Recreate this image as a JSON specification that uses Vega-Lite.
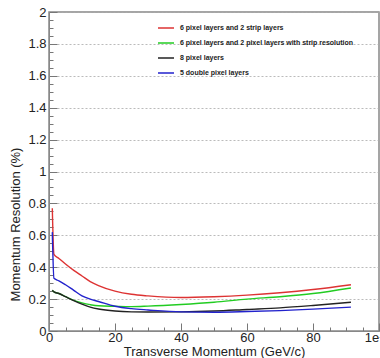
{
  "$schema": "https://vega.github.io/schema/vega-lite/v6.json",
  "width": 330,
  "height": 319,
  "autosize": "none",
  "padding": {"left": 49, "top": 12, "right": 1, "bottom": 27},
  "background": "white",
  "config": {
    "font": "Liberation Sans",
    "view": {"stroke": "#888888", "strokeWidth": 1.5}
  },
  "data": {
    "values": [
      {"series": "6 pixel layers and 2 strip layers", "pt": 1, "res": 0.77},
      {"series": "6 pixel layers and 2 strip layers", "pt": 1.5, "res": 0.48},
      {"series": "6 pixel layers and 2 strip layers", "pt": 3, "res": 0.455},
      {"series": "6 pixel layers and 2 strip layers", "pt": 5, "res": 0.42},
      {"series": "6 pixel layers and 2 strip layers", "pt": 7.5, "res": 0.38},
      {"series": "6 pixel layers and 2 strip layers", "pt": 10, "res": 0.345},
      {"series": "6 pixel layers and 2 strip layers", "pt": 12.5, "res": 0.31},
      {"series": "6 pixel layers and 2 strip layers", "pt": 15, "res": 0.285},
      {"series": "6 pixel layers and 2 strip layers", "pt": 20, "res": 0.25},
      {"series": "6 pixel layers and 2 strip layers", "pt": 25, "res": 0.23},
      {"series": "6 pixel layers and 2 strip layers", "pt": 30, "res": 0.22},
      {"series": "6 pixel layers and 2 strip layers", "pt": 40, "res": 0.21},
      {"series": "6 pixel layers and 2 strip layers", "pt": 50, "res": 0.215},
      {"series": "6 pixel layers and 2 strip layers", "pt": 60, "res": 0.225},
      {"series": "6 pixel layers and 2 strip layers", "pt": 70, "res": 0.24},
      {"series": "6 pixel layers and 2 strip layers", "pt": 80, "res": 0.26},
      {"series": "6 pixel layers and 2 strip layers", "pt": 91.5, "res": 0.29},

      {"series": "6 pixel layers and 2 pixel layers with strip resolution", "pt": 1, "res": 0.255},
      {"series": "6 pixel layers and 2 pixel layers with strip resolution", "pt": 1.5, "res": 0.245},
      {"series": "6 pixel layers and 2 pixel layers with strip resolution", "pt": 3, "res": 0.235},
      {"series": "6 pixel layers and 2 pixel layers with strip resolution", "pt": 5, "res": 0.215},
      {"series": "6 pixel layers and 2 pixel layers with strip resolution", "pt": 7.5, "res": 0.192},
      {"series": "6 pixel layers and 2 pixel layers with strip resolution", "pt": 10, "res": 0.176},
      {"series": "6 pixel layers and 2 pixel layers with strip resolution", "pt": 12.5, "res": 0.165},
      {"series": "6 pixel layers and 2 pixel layers with strip resolution", "pt": 15, "res": 0.158},
      {"series": "6 pixel layers and 2 pixel layers with strip resolution", "pt": 20, "res": 0.155},
      {"series": "6 pixel layers and 2 pixel layers with strip resolution", "pt": 25, "res": 0.153},
      {"series": "6 pixel layers and 2 pixel layers with strip resolution", "pt": 30, "res": 0.156},
      {"series": "6 pixel layers and 2 pixel layers with strip resolution", "pt": 40, "res": 0.166},
      {"series": "6 pixel layers and 2 pixel layers with strip resolution", "pt": 50, "res": 0.18},
      {"series": "6 pixel layers and 2 pixel layers with strip resolution", "pt": 60, "res": 0.20},
      {"series": "6 pixel layers and 2 pixel layers with strip resolution", "pt": 70, "res": 0.215},
      {"series": "6 pixel layers and 2 pixel layers with strip resolution", "pt": 80, "res": 0.235},
      {"series": "6 pixel layers and 2 pixel layers with strip resolution", "pt": 91.5, "res": 0.27},

      {"series": "8 pixel layers", "pt": 1, "res": 0.255},
      {"series": "8 pixel layers", "pt": 1.5, "res": 0.245},
      {"series": "8 pixel layers", "pt": 3, "res": 0.235},
      {"series": "8 pixel layers", "pt": 5, "res": 0.215},
      {"series": "8 pixel layers", "pt": 7.5, "res": 0.19},
      {"series": "8 pixel layers", "pt": 10, "res": 0.168},
      {"series": "8 pixel layers", "pt": 12.5, "res": 0.15},
      {"series": "8 pixel layers", "pt": 15, "res": 0.138},
      {"series": "8 pixel layers", "pt": 20, "res": 0.125},
      {"series": "8 pixel layers", "pt": 25, "res": 0.12},
      {"series": "8 pixel layers", "pt": 30, "res": 0.119},
      {"series": "8 pixel layers", "pt": 40, "res": 0.12},
      {"series": "8 pixel layers", "pt": 50, "res": 0.125},
      {"series": "8 pixel layers", "pt": 60, "res": 0.135},
      {"series": "8 pixel layers", "pt": 70, "res": 0.145},
      {"series": "8 pixel layers", "pt": 80, "res": 0.16},
      {"series": "8 pixel layers", "pt": 91.5, "res": 0.18},

      {"series": "5 double pixel layers", "pt": 1, "res": 0.62},
      {"series": "5 double pixel layers", "pt": 1.5, "res": 0.33},
      {"series": "5 double pixel layers", "pt": 3, "res": 0.315},
      {"series": "5 double pixel layers", "pt": 5, "res": 0.29},
      {"series": "5 double pixel layers", "pt": 7.5, "res": 0.255},
      {"series": "5 double pixel layers", "pt": 10, "res": 0.22},
      {"series": "5 double pixel layers", "pt": 12.5, "res": 0.2},
      {"series": "5 double pixel layers", "pt": 15, "res": 0.185},
      {"series": "5 double pixel layers", "pt": 20, "res": 0.155},
      {"series": "5 double pixel layers", "pt": 25, "res": 0.14},
      {"series": "5 double pixel layers", "pt": 30, "res": 0.132},
      {"series": "5 double pixel layers", "pt": 40, "res": 0.12},
      {"series": "5 double pixel layers", "pt": 50, "res": 0.118},
      {"series": "5 double pixel layers", "pt": 60, "res": 0.122},
      {"series": "5 double pixel layers", "pt": 70, "res": 0.128},
      {"series": "5 double pixel layers", "pt": 80, "res": 0.137},
      {"series": "5 double pixel layers", "pt": 91.5, "res": 0.15}
    ]
  },
  "mark": {"type": "line", "strokeWidth": 1.4, "interpolate": "monotone"},
  "encoding": {
    "x": {
      "field": "pt",
      "type": "quantitative",
      "scale": {"domain": [0, 100], "nice": false},
      "axis": {
        "title": "Transverse Momentum (GeV/c)",
        "titleFontSize": 13,
        "titleFontWeight": "normal",
        "titleColor": "#222222",
        "titleY": 14,
        "titleBaseline": "top",
        "values": [0,5,10,15,20,25,30,35,40,45,50,55,60,65,70,75,80,85,90,95,100],
        "format": "~g",
        "labelExpr": "datum.value % 20 == 0 ? datum.label : ''",
        "labelFontSize": 13,
        "labelColor": "#222222",
        "labelPadding": 8,
        "labelFlush": false,
        "labelOverlap": false,
        "tickColor": "#777777",
        "tickSize": {"condition": {"test": "datum.value % 20 == 0", "value": -8}, "value": -4},
        "domainColor": "#888888",
        "grid": false
      }
    },
    "y": {
      "field": "res",
      "type": "quantitative",
      "scale": {"domain": [0, 2], "nice": false},
      "axis": {
        "title": "Momentum Resolution (%)",
        "titleFontSize": 13,
        "titleFontWeight": "normal",
        "titleColor": "#222222",
        "titleAnchor": "middle",
        "titleY": 212,
        "titleX": -27,
        "values": [0,0.05,0.1,0.15,0.2,0.25,0.3,0.35,0.4,0.45,0.5,0.55,0.6,0.65,0.7,0.75,0.8,0.85,0.9,0.95,1,1.05,1.1,1.15,1.2,1.25,1.3,1.35,1.4,1.45,1.5,1.55,1.6,1.65,1.7,1.75,1.8,1.85,1.9,1.95,2],
        "format": "~g",
        "labelExpr": "abs(datum.value*5 - round(datum.value*5)) < 0.001 ? datum.label : ''",
        "labelFontSize": 13,
        "labelColor": "#222222",
        "labelPadding": 11,
        "labelOverlap": false,
        "labelFlush": false,
        "tickColor": "#777777",
        "tickSize": {"condition": {"test": "abs(datum.value*5 - round(datum.value*5)) < 0.001", "value": -8}, "value": -4},
        "domainColor": "#888888",
        "grid": true,
        "gridColor": "#aaaaaa",
        "gridDash": [2, 2],
        "gridWidth": 0.8,
        "gridOpacity": {"condition": {"test": "abs(datum.value*5 - round(datum.value*5)) < 0.001", "value": 1}, "value": 0}
      }
    },
    "color": {
      "field": "series",
      "type": "nominal",
      "scale": {
        "domain": [
          "6 pixel layers and 2 strip layers",
          "6 pixel layers and 2 pixel layers with strip resolution",
          "8 pixel layers",
          "5 double pixel layers"
        ],
        "range": ["#dd3333", "#22cc22", "#222222", "#2222cc"]
      },
      "legend": {
        "title": null,
        "orient": "none",
        "legendX": 108,
        "legendY": 7,
        "symbolType": "stroke",
        "symbolSize": 256,
        "symbolStrokeWidth": 1.5,
        "labelFontSize": 7,
        "labelFontWeight": "bold",
        "labelColor": "#222222",
        "labelOffset": 5,
        "labelLimit": 300,
        "rowPadding": 3
      }
    }
  }
}
